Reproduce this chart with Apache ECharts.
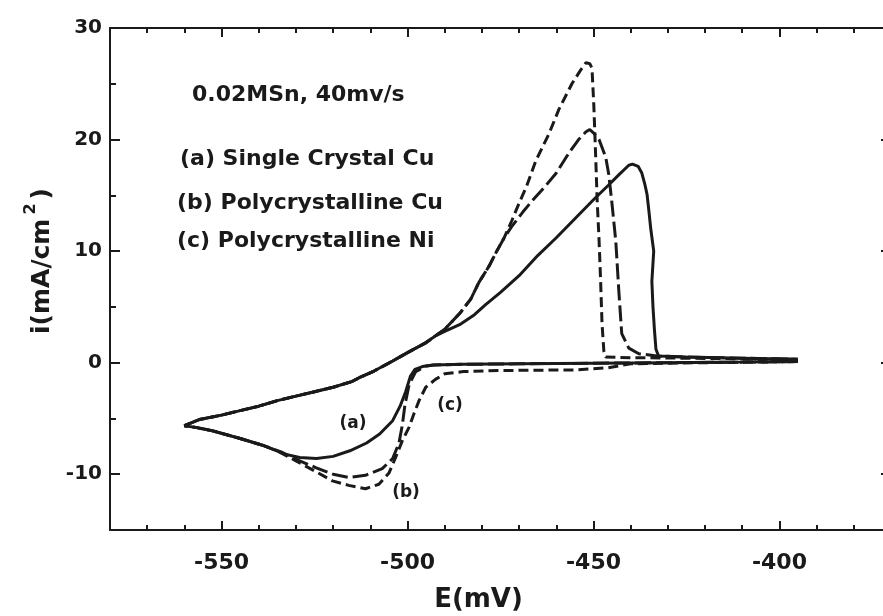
<!DOCTYPE html>
<html><head><meta charset="utf-8">
<script src="https://cdn.jsdelivr.net/npm/echarts@6/dist/echarts.min.js"></script>
<style>html,body{margin:0;padding:0;background:#fff}#c{width:883px;height:616px}</style>
</head><body><div id="c"></div>
<script>
// ---- tick labels ----
const xTickLabels = [-550, -500, -450, -400];
const yTickLabels = [-10, 0, 10, 20, 30];
const seriesNames = ['(a) Single Crystal Cu', '(b) Polycrystalline Cu', '(c) Polycrystalline Ni'];

// ---- cathodic sweeps (from -395 mV toward -560 mV) ----
const cathodicA = [[-395,0.1],[-410,0.05],[-430,0],[-450,-0.05],[-470,-0.1],[-485,-0.15],[-493,-0.2],[-496,-0.35],[-498,-0.6],[-499.2,-1.2],[-500.5,-2.6],[-502,-3.9],[-504,-5.2],[-507.5,-6.4],[-511,-7.2],[-515.5,-7.9],[-520,-8.4],[-524.5,-8.6],[-529,-8.5],[-533,-8.2],[-539,-7.4],[-545,-6.8],[-552.5,-6.1],[-557,-5.8],[-560,-5.65]];
const cathodicB = [[-395,0.1],[-410,0.05],[-430,0],[-450,-0.05],[-470,-0.1],[-485,-0.15],[-493,-0.2],[-495,-0.3],[-497.8,-0.8],[-499.6,-2.0],[-500.7,-3.8],[-501.4,-5.6],[-502.3,-7.2],[-504,-8.6],[-506.8,-9.5],[-511.3,-10.1],[-515.8,-10.3],[-520,-10.0],[-524.7,-9.4],[-529,-8.8],[-534,-8.0],[-539,-7.4],[-545,-6.8],[-552.5,-6.1],[-557,-5.8],[-560,-5.65]];
const cathodicC = [[-395,0.1],[-420,0.0],[-440,-0.1],[-446,-0.45],[-455,-0.65],[-475,-0.7],[-485,-0.8],[-490,-1.0],[-492.5,-1.5],[-495.1,-2.2],[-496.9,-3.4],[-498.3,-4.6],[-499.6,-5.8],[-501.4,-7.0],[-503.2,-8.5],[-505,-9.9],[-507.7,-10.9],[-511.3,-11.3],[-515.8,-11.0],[-520.2,-10.6],[-525,-9.7],[-530,-8.8],[-535,-7.9],[-539,-7.4],[-545,-6.8],[-552.5,-6.1],[-557,-5.8],[-560,-5.65]];

// ---- reverse sweep shared by all three (from -560 mV) ----
const reverseShared = [[-560,-5.65],[-556,-5.1],[-550,-4.7],[-545,-4.3],[-540,-3.9],[-535,-3.4],[-530,-3.0],[-525,-2.6],[-520,-2.2],[-515,-1.7],[-513,-1.35],[-509,-0.75],[-504,0.15],[-500,0.9],[-495,1.8],[-492.5,2.4]];
// rising part shared by (b) and (c)
const riseSharedBC = [[-490,3.0],[-486,4.4],[-483,5.7],[-480.8,7.2],[-478,8.7],[-476,10.0],[-474,11.2]];

// ---- anodic stripping peaks and return to -395 mV ----
const anodicA = [[-490,2.8],[-486,3.4],[-482,4.3],[-479,5.2],[-475,6.3],[-470,7.8],[-465,9.6],[-460,11.2],[-455,12.9],[-450,14.6],[-446,15.9],[-443,16.9],[-440.5,17.7],[-439.5,17.8],[-438,17.6],[-437,17.0],[-436.2,16.0],[-435.6,15.1],[-435.1,13.6],[-434.6,12.0],[-433.8,10.0],[-434.3,7.3],[-434,5.0],[-433.6,2.9],[-433.2,1.2],[-432.5,0.6],[-425,0.5],[-410,0.4],[-395,0.3]];
const anodicB = [[-472,12.2],[-469,13.5],[-466.5,14.5],[-463,15.8],[-460,17.0],[-456.6,18.8],[-454,20.0],[-452,20.7],[-451,20.9],[-450,20.6],[-448.5,20.0],[-446.7,18.4],[-445.9,16.9],[-445.1,14.5],[-444,10.9],[-443.2,6.5],[-442.4,2.6],[-440.5,1.3],[-437.8,0.8],[-433,0.6],[-425,0.5],[-410,0.4],[-395,0.3]];
const anodicC = [[-472,12.7],[-470,14.3],[-468,15.8],[-465.5,18.1],[-462,20.5],[-459.3,22.7],[-455.8,25.0],[-453.5,26.2],[-452,26.9],[-451,26.8],[-450.4,26.4],[-449.9,23.0],[-449.4,18.4],[-449,14.5],[-448.5,11.0],[-448.1,7.5],[-447.7,3.5],[-447.2,1.0],[-446.7,0.5],[-440,0.45],[-425,0.4],[-410,0.35],[-395,0.3]];

const curveA = cathodicA.concat(reverseShared, anodicA);
const curveB = cathodicB.concat(reverseShared, riseSharedBC, anodicB);
const curveC = cathodicC.concat(reverseShared, riseSharedBC, anodicC);

const INK = '#1a1a1a';
const FONT = '"DejaVu Sans", sans-serif';
const X_MIN = -580, X_MAX = -370, Y_MIN = -15, Y_MAX = 30;

function xAx(pos, major, extra) {
  const a = {
    type: 'value', position: pos, min: X_MIN, max: X_MAX,
    axisLine: { show: major, onZero: false, lineStyle: { color: INK, width: 2 } },
    axisTick: { show: true, inside: true, length: major ? 9 : 5, lineStyle: { color: INK, width: 2 } },
    axisLabel: { show: false },
    splitLine: { show: false }
  };
  if (major) a.axisTick.customValues = xTickLabels; else a.interval = 10;
  return Object.assign(a, extra || {});
}
function yAx(pos, major, extra) {
  const a = {
    type: 'value', position: pos, min: Y_MIN, max: Y_MAX,
    axisLine: { show: major, onZero: false, lineStyle: { color: INK, width: 2 } },
    axisTick: { show: true, inside: true, length: major ? 10 : 6, lineStyle: { color: INK, width: 2 } },
    axisLabel: { show: false },
    splitLine: { show: false }
  };
  if (major) a.axisTick.customValues = yTickLabels; else a.interval = 5;
  return Object.assign(a, extra || {});
}

const chart = echarts.init(document.getElementById('c'), null, { renderer: 'canvas' });
const option = {
  animation: false,
  backgroundColor: '#fff',
  grid: { left: 110, width: 781, top: 28, height: 502, containLabel: false, outerBoundsMode: 'none' },
  xAxis: [
    xAx('bottom', true, {
      axisLabel: { show: true, customValues: xTickLabels, fontFamily: FONT, fontWeight: 'bold', fontSize: 22, color: INK, margin: 22 },
      name: 'E(mV)', nameLocation: 'middle', nameGap: 57,
      nameTextStyle: { fontFamily: FONT, fontWeight: 'bold', fontSize: 26, color: INK, padding: [0, 44, 0, 0] }
    }),
    xAx('bottom', false),
    xAx('top', true),
    xAx('top', false)
  ],
  yAxis: [
    yAx('left', true, {
      axisLabel: { show: true, customValues: yTickLabels, fontFamily: FONT, fontWeight: 'bold', fontSize: 20, color: INK, margin: 8 },
      name: '{b|i(mA/cm}{s|2}{b|)}', nameLocation: 'middle', nameGap: 52, nameRotate: 90,
      nameTextStyle: {
        padding: [0, 0, 0, 36],
        rich: {
          b: { fontFamily: FONT, fontWeight: 'bold', fontSize: 25, color: INK, verticalAlign: 'bottom' },
          s: { fontFamily: FONT, fontWeight: 'bold', fontSize: 16, color: INK, verticalAlign: 'bottom', padding: [0, 4, 16, 4] }
        }
      }
    }),
    yAx('left', false),
    yAx('right', true),
    yAx('right', false)
  ],
  series: [
    { name: seriesNames[0], type: 'line', data: curveA, xAxisIndex: 0, yAxisIndex: 0, showSymbol: false, symbol: 'none',
      lineStyle: { color: INK, width: 3, type: 'solid' } },
    { name: seriesNames[1], type: 'line', data: curveB, xAxisIndex: 0, yAxisIndex: 0, showSymbol: false, symbol: 'none',
      lineStyle: { color: INK, width: 3, type: [16, 5] } },
    { name: seriesNames[2], type: 'line', data: curveC, xAxisIndex: 0, yAxisIndex: 0, showSymbol: false, symbol: 'none',
      lineStyle: { color: INK, width: 3, type: [10, 5] } }
  ],
  graphic: [
    { type: 'text', x: 192, y: 95, style: { text: '0.02MSn, 40mv/s', font: 'bold 22px ' + FONT, fill: INK, verticalAlign: 'middle' } },
    { type: 'text', x: 180, y: 159, style: { text: seriesNames[0], font: 'bold 22px ' + FONT, fill: INK, verticalAlign: 'middle' } },
    { type: 'text', x: 177, y: 203, style: { text: seriesNames[1], font: 'bold 22px ' + FONT, fill: INK, verticalAlign: 'middle' } },
    { type: 'text', x: 177, y: 241, style: { text: seriesNames[2], font: 'bold 22px ' + FONT, fill: INK, verticalAlign: 'middle' } },
    { type: 'text', x: 353, y: 424, style: { text: '(a)', font: 'bold 17px ' + FONT, fill: INK, align: 'center', verticalAlign: 'middle' } },
    { type: 'text', x: 406, y: 493, style: { text: '(b)', font: 'bold 17px ' + FONT, fill: INK, align: 'center', verticalAlign: 'middle' } },
    { type: 'text', x: 450, y: 406, style: { text: '(c)', font: 'bold 17px ' + FONT, fill: INK, align: 'center', verticalAlign: 'middle' } }
  ]
};
chart.setOption(option);
</script>
</body></html>
